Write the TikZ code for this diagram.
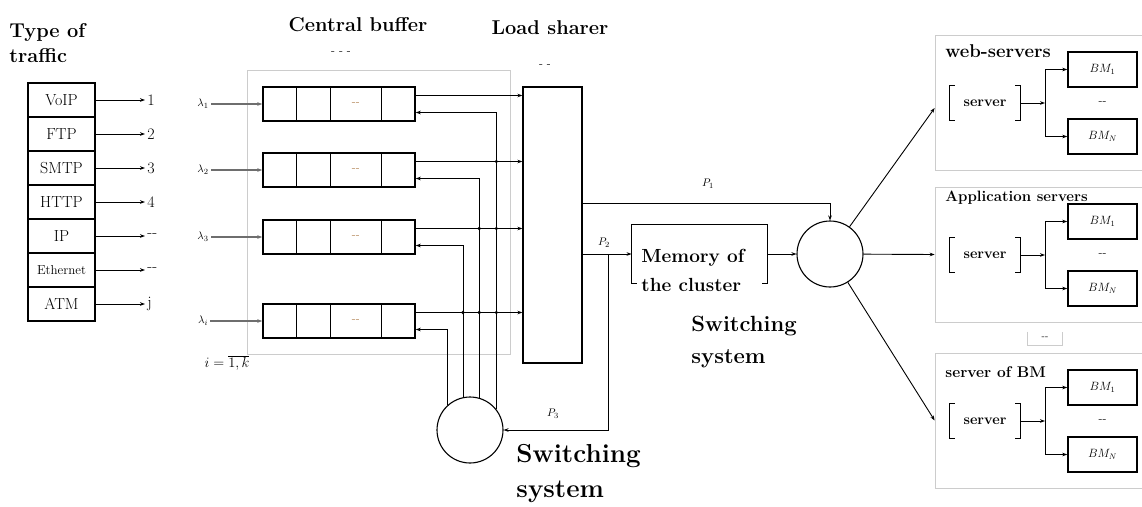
\documentclass[tikz,border=0pt]{standalone}
\usepackage{fontspec}
\usetikzlibrary{arrows.meta}
\definecolor{FrameGray}{HTML}{CCCCCC}
\definecolor{LineGray}{HTML}{6E6E6E}
\definecolor{DashBrown}{HTML}{B08050}

\begin{document}
\begin{tikzpicture}[x=1pt,y=-1pt,line width=.9pt,
  arr/.style={-{Stealth[length=5pt,width=3.6pt]}},
  title/.style={font=\fontsize{20}{25}\selectfont\bfseries,align=left,inner sep=0pt},
  bigtitle/.style={font=\fontsize{26}{35}\selectfont\bfseries,align=left,inner sep=0pt},
  cellbox/.style={draw,line width=1.5pt,minimum width=67pt,minimum height=34pt,inner sep=0pt,font=\fontsize{16}{16}\selectfont},
  numlab/.style={font=\fontsize{16}{16}\selectfont,inner sep=2pt},
  qrow/.style={draw,line width=1.5pt,minimum width=152pt,minimum height=34pt,inner sep=0pt},
  frame/.style={draw=FrameGray,line width=.7pt,inner sep=0pt},
  lam/.style={font=\fontsize{11}{11}\selectfont,inner sep=2pt},
  plab/.style={font=\fontsize{11}{11}\selectfont,inner sep=1pt},
  dotlab/.style={font=\fontsize{12}{12}\selectfont,text=DashBrown,inner sep=0pt},
  srv/.style={minimum width=70pt,minimum height=34pt,inner sep=0pt,font=\fontsize{14.5}{14.5}\selectfont\bfseries},
  bm/.style={draw,line width=1.5pt,minimum width=69pt,minimum height=35pt,inner sep=0pt,font=\fontsize{12}{12}\selectfont},
  sw/.style={circle,draw,line width=1.1pt,minimum size=66pt,inner sep=0pt}]
  \useasboundingbox (0,0) rectangle (1142,506);
  % traffic types
  \node[title,anchor=west] (tt) at (9,43) {Type of\\traffic};
  \foreach \t/\n [count=\i] in {VoIP/1,FTP/2,SMTP/3,HTTP/4,IP/{-}{-},{\fontsize{13}{13}\selectfont Ethernet}/{-}{-},ATM/j} {
    \node[cellbox] (t\i) at (61.5,66+34*\i) {\t};
    \node[numlab,anchor=west] (n\i) at (145,66+34*\i) {\n};
    \draw[arr] (t\i.east) -- (n\i.west);
  }
  % central buffer and load sharer
  \node[frame,minimum width=263pt,minimum height=284pt] (cb) at (378.5,212) {};
  \node[title] (cbt) at (358,25) {Central buffer};
  \node[dotlab,text=black] (cbd) at (341,53) {- - -};
  \node[title] (lst) at (550,28) {Load sharer};
  \node[dotlab,text=black] (lsd) at (545,66) {- -};
  \node[draw,line width=1.3pt,minimum width=59pt,minimum height=276pt] (ls) at (552.5,225) {};
  \node[sw] (sw1) at (470,430) {};
  \node[lam,font=\fontsize{14}{14}\selectfont] (idx) at (227,363) {$i=\overline{1,k}$};
  \foreach \l/\y/\a [count=\i] in {1/104/38,2/170/74,3/237/102,i/321/132} {
    \node[qrow] (q\i) at (339,\y) {};
    \foreach \d in {34,68,119}
      \draw[line width=1.5pt] ([xshift=\d pt]q\i.north west) -- ([xshift=\d pt]q\i.south west);
    \node[dotlab] (qd\i) at ([xshift=93.5pt]q\i.west) {{-}{-}};
    \node[lam] (l\i) at (203,\y) {$\lambda_\l$};
    \draw[arr,LineGray,line width=1.3pt] (l\i.east) -- (q\i.west);
    \coordinate (o\i) at ([yshift=8.5pt]q\i.east);
    \draw[arr] (o\i) -- (o\i -| ls.west);
    \draw[arr] (sw1.\a) |- ([yshift=-8.5pt]q\i.east);
  }
  \foreach \a/\r in {38/2,38/3,38/4,74/3,74/4,102/4}
    \fill (sw1.\a |- o\r) circle (1.8pt);
  % load sharer outputs
  \coordinate (p1) at ([yshift=22pt]ls.east);
  \coordinate (p2) at ([yshift=-29pt]ls.east);
  \coordinate (tap) at ([xshift=26pt]p2);
  \node[sw] (sw2) at (830,254) {};
  \node[minimum width=135pt,minimum height=58pt] (mem) at (699.5,254) {};
  \draw[line width=1.3pt] ([xshift=5pt]mem.south west) -- (mem.south west) -- (mem.north west) -- (mem.north east) -- (mem.south east) -- ++(-5,0);
  \node[title,anchor=west,font=\fontsize{19}{29}\selectfont\bfseries] (memt) at (641,270) {Memory of\\the cluster};
  \draw[arr] (p1) -| (sw2.north);
  \draw[arr] (p2) -- (mem.west);
  \draw[arr] (mem.east) -- (sw2.west);
  \draw[arr] (tap) |- (sw1.east);
  \node[plab] (p1l) at (708,184) {$P_1$};
  \node[plab] (p2l) at (604,243) {$P_2$};
  \node[plab] (p3l) at (553,414) {$P_3$};
  \node[bigtitle,anchor=north west,font=\fontsize{22}{32}\selectfont\bfseries] (sw2t) at (691,316) {Switching\\system};
  \node[bigtitle,anchor=north west] (sw1t) at (516,444) {Switching\\system};
  % server groups
  \foreach \g/\yt/\yl/\fs/\gname in {1/35/22/18.5/web-servers,2/187/14/15/Application servers,3/353/24/15.5/server of BM} {
    \node[frame,minimum width=212pt,minimum height=135pt] (g\g) at (1041,\yt+67.5) {};
    \node[anchor=base west,inner sep=0pt,font=\fontsize{\fs}{\fs}\selectfont\bfseries] (gl\g) at (945,\yt+\yl) {\gname};
    \node[srv] (s\g) at (985,\yt+68) {server};
    \draw[line width=1.3pt] ([xshift=5pt]s\g.north west) -- (s\g.north west) -- (s\g.south west) -- ++(5,0);
    \draw[line width=1.3pt] ([xshift=-5pt]s\g.north east) -- (s\g.north east) -- (s\g.south east) -- ++(-5,0);
    \node[bm] (bt\g) at (1102.5,\yt+34.5) {$BM_1$};
    \node[bm] (bb\g) at (1102.5,\yt+101.5) {$BM_N$};
    \node[dotlab,text=black] (bd\g) at (1102.5,\yt+68) {{-}{-}};
    \coordinate (f\g) at (1045,\yt+68);
    \draw[arr] (s\g.east) -- (f\g);
    \draw[arr] (f\g) |- (bt\g.west);
    \draw[arr] (f\g) |- (bb\g.west);
  }
  \node[minimum width=34pt,minimum height=13pt,inner sep=0pt,font=\fontsize{10}{10}\selectfont] (gap) at (1045,338.5) {{-}{-}};
  \draw[FrameGray] (gap.north west) -- (gap.south west) -- (gap.south east) -- (gap.north east);
  \draw[arr] (sw2) -- ([yshift=-5.5pt]g1.west);
  \draw[arr] (sw2) -- (g2.west);
  \draw[arr] (sw2) -- (g3.west);
\end{tikzpicture}
\end{document}
